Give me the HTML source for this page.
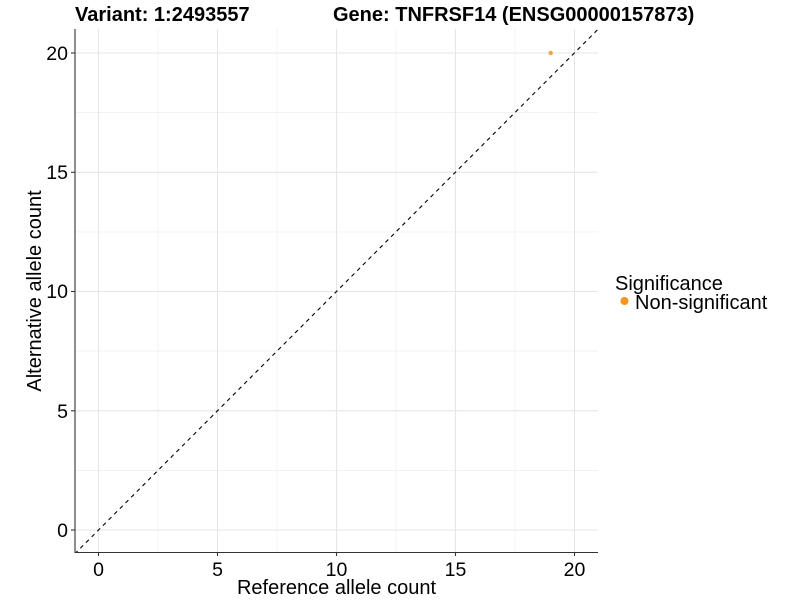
<!DOCTYPE html>
<html><head><style>body{margin:0;background:#fff}svg text{font-family:"Liberation Sans",Arial,sans-serif}</style></head><body>
<svg width="800" height="600" xmlns="http://www.w3.org/2000/svg">
<defs><clipPath id="c"><rect x="75" y="29" width="523" height="523"/></clipPath></defs>
<g stroke="#ebebeb" stroke-width="0.6">
<line x1="158" y1="29" x2="158" y2="552"/><line x1="277" y1="29" x2="277" y2="552"/><line x1="396" y1="29" x2="396" y2="552"/><line x1="515" y1="29" x2="515" y2="552"/>
<line x1="75" y1="470.4" x2="598" y2="470.4"/><line x1="75" y1="351.1" x2="598" y2="351.1"/><line x1="75" y1="231.9" x2="598" y2="231.9"/><line x1="75" y1="112.6" x2="598" y2="112.6"/>
</g>
<g stroke="#e6e6e6" stroke-width="1.1">
<line x1="98.5" y1="29" x2="98.5" y2="552"/><line x1="217.5" y1="29" x2="217.5" y2="552"/><line x1="336.5" y1="29" x2="336.5" y2="552"/><line x1="455.5" y1="29" x2="455.5" y2="552"/><line x1="574.5" y1="29" x2="574.5" y2="552"/>
<line x1="75" y1="530" x2="598" y2="530"/><line x1="75" y1="410.8" x2="598" y2="410.8"/><line x1="75" y1="291.5" x2="598" y2="291.5"/><line x1="75" y1="172.3" x2="598" y2="172.3"/><line x1="75" y1="53" x2="598" y2="53"/>
</g>
<line clip-path="url(#c)" x1="74.7" y1="553.9" x2="598.3" y2="29" stroke="#000" stroke-width="1.1" stroke-dasharray="4,4"/>
<circle cx="550.7" cy="53" r="2.2" fill="#f7a23a"/>
<g stroke="#333" stroke-width="1.1">
<line x1="75" y1="29" x2="75" y2="552.5"/><line x1="74.5" y1="552.5" x2="598" y2="552.5"/>
<line x1="98.5" y1="552" x2="98.5" y2="556"/><line x1="217.5" y1="552" x2="217.5" y2="556"/><line x1="336.5" y1="552" x2="336.5" y2="556"/><line x1="455.5" y1="552" x2="455.5" y2="556"/><line x1="574.5" y1="552" x2="574.5" y2="556"/>
<line x1="71" y1="530" x2="75" y2="530"/><line x1="71" y1="410.8" x2="75" y2="410.8"/><line x1="71" y1="291.5" x2="75" y2="291.5"/><line x1="71" y1="172.3" x2="75" y2="172.3"/><line x1="71" y1="53" x2="75" y2="53"/>
</g>
<g font-size="19.5" fill="#000" text-anchor="middle">
<text x="98.5" y="576">0</text><text x="217.5" y="576">5</text><text x="336.5" y="576">10</text><text x="455.5" y="576">15</text><text x="574.5" y="576">20</text>
</g>
<g font-size="19.5" fill="#000" text-anchor="end">
<text x="68" y="537">0</text><text x="68" y="418">5</text><text x="68" y="298">10</text><text x="68" y="179">15</text><text x="68" y="60">20</text>
</g>
<text x="336.5" y="594" font-size="20" text-anchor="middle">Reference allele count</text>
<text transform="translate(41,291) rotate(-90)" font-size="20" text-anchor="middle">Alternative allele count</text>
<text x="75" y="21" font-size="20" font-weight="bold">Variant: 1:2493557</text>
<text x="333" y="21" font-size="20" font-weight="bold">Gene: TNFRSF14 (ENSG00000157873)</text>
<text x="615" y="290" font-size="20">Significance</text>
<circle cx="624.5" cy="301" r="4" fill="#f7941d"/>
<text x="635" y="309" font-size="20">Non-significant</text>
</svg>
</body></html>
